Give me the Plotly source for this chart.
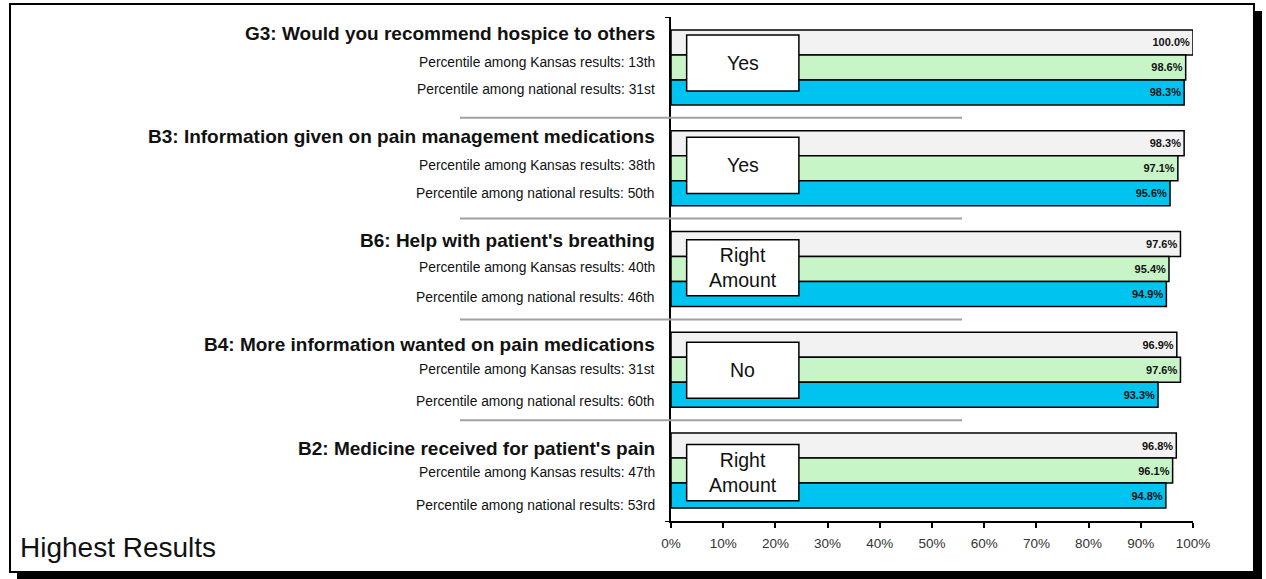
import plotly.graph_objects as go

# ---------------- data ----------------
questions = [
    "G3: Would you recommend hospice to others",
    "B3: Information given on pain management medications",
    "B6: Help with patient's breathing",
    "B4: More information wanted on pain medications",
    "B2: Medicine received for patient's pain",
]
kansas_pct = ["13th", "38th", "40th", "31st", "47th"]
national_pct = ["31st", "50th", "46th", "60th", "53rd"]
answers = ["Yes", "Yes", "Right<br>Amount", "No", "Right<br>Amount"]

hospice_values = [100.0, 98.3, 97.6, 96.9, 96.8]
kansas_values = [98.6, 97.1, 95.4, 97.6, 96.1]
national_values = [98.3, 95.6, 94.9, 93.3, 94.8]

x_tick_vals = [0, 10, 20, 30, 40, 50, 60, 70, 80, 90, 100]
x_tick_text = ["0%", "10%", "20%", "30%", "40%", "50%", "60%", "70%", "80%", "90%", "100%"]

# ---------------- layout geometry ----------------
W, H = 1266, 579
L, T = 671, 17
PW, PH = 522, 504
FONT = "Arial, Liberation Sans, sans-serif"


def px_x(p):
    return (p - L) / PW


def px_y(p):
    return (T + PH - p) / PH


idx = list(range(len(questions)))

fig = go.Figure()
series = [
    ("Hospice", hospice_values, "#f2f2f2"),
    ("Kansas", kansas_values, "#c8f5c8"),
    ("National", national_values, "#00c4f0"),
]
for name, vals, color in series:
    fig.add_trace(go.Bar(
        name=name,
        y=idx,
        x=vals,
        orientation="h",
        marker=dict(color=color, line=dict(color="black", width=1.5)),
        text=[f"{v:.1f}%" for v in vals],
        textposition="inside",
        insidetextanchor="end",
        textangle=0,
        textfont=dict(family=FONT, size=11, color="#111111", weight="bold"),
        hoverinfo="skip",
    ))

shapes = [
    # frame shadow
    dict(type="rect", xref="paper", yref="paper", layer="below",
         x0=px_x(17), x1=px_x(1262), y0=px_y(579), y1=px_y(11),
         fillcolor="black", line=dict(width=0)),
    # frame
    dict(type="rect", xref="paper", yref="paper", layer="below",
         x0=px_x(10), x1=px_x(1254), y0=px_y(572), y1=px_y(4),
         fillcolor="white", line=dict(color="black", width=2)),
]
# separators between groups
for i in idx[:-1]:
    shapes.append(dict(type="line", xref="paper", yref="y",
                       x0=px_x(460), x1=px_x(962), y0=i + 0.5, y1=i + 0.5,
                       line=dict(color="#a0a0a0", width=2)))

annotations = []
for i in idx:
    yc = -0.044 + 1.016 * i
    shapes.append(dict(type="rect", xref="x", yref="y",
                       x0=3, x1=24.5, y0=yc - 0.278, y1=yc + 0.278,
                       fillcolor="white", line=dict(color="black", width=1.5)))
    annotations.append(dict(xref="x", yref="y", x=13.75, y=yc, text=answers[i],
                            showarrow=False, font=dict(family=FONT, size=19.5, color="#111111")))
    annotations.append(dict(xref="paper", yref="y", x=px_x(657), y=-0.341 + 1.03 * i,
                            xanchor="right", yanchor="middle", text=questions[i], showarrow=False,
                            font=dict(family=FONT, size=19, color="#111111", weight="bold")))
    annotations.append(dict(xref="paper", yref="y", x=px_x(657), y=-0.044 + 1.015 * i,
                            xanchor="right", yanchor="middle",
                            text="Percentile among Kansas results: " + kansas_pct[i],
                            showarrow=False, font=dict(family=FONT, size=13.8, color="#111111")))
    annotations.append(dict(xref="paper", yref="y", x=px_x(657), y=0.224 + 1.03 * i,
                            xanchor="right", yanchor="middle",
                            text="Percentile among national results: " + national_pct[i],
                            showarrow=False, font=dict(family=FONT, size=13.8, color="#111111")))

annotations.append(dict(xref="paper", yref="paper", x=px_x(18), y=px_y(547),
                        xanchor="left", yanchor="middle", text="Highest Results", showarrow=False,
                        font=dict(family=FONT, size=28, color="#111111")))

fig.update_layout(
    width=W, height=H, autosize=False,
    margin=dict(l=L, r=W - L - PW, t=T, b=H - T - PH, pad=0),
    paper_bgcolor="white", plot_bgcolor="rgba(0,0,0,0)",
    barmode="group", bargap=0.256, bargroupgap=0,
    showlegend=False,
    shapes=shapes, annotations=annotations,
    xaxis=dict(range=[0, 100], tickvals=x_tick_vals, ticktext=x_tick_text,
               ticks="outside", ticklen=5, tickcolor="black", tickwidth=1.5,
               ticklabelstandoff=4,
               showline=True, linecolor="black", linewidth=1.5,
               showgrid=False, zeroline=False,
               tickfont=dict(family=FONT, size=13.5, color="#333333")),
    yaxis=dict(range=[4.5, -0.5], tickvals=[-0.5, 0.5, 1.5, 2.5, 3.5, 4.5],
               ticktext=[""] * 6, ticks="outside", ticklen=4, tickcolor="black",
               showline=True, linecolor="black", linewidth=1.5,
               showgrid=False, zeroline=False),
)

fig.write_html("out.html", config={"displayModeBar": False},
               post_script="document.body.style.margin='0';document.body.style.overflow='hidden';")
